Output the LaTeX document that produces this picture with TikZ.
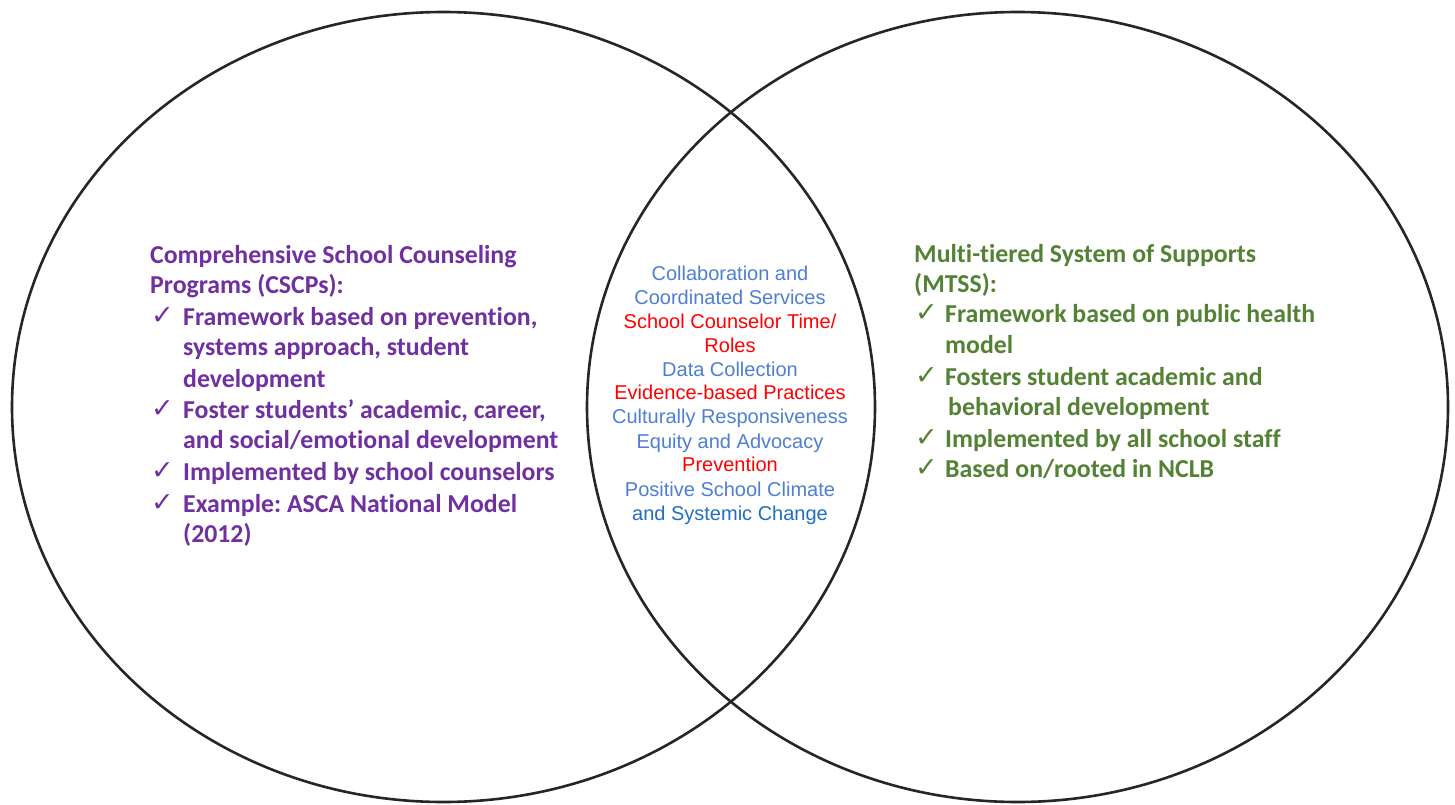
\documentclass[tikz,border=0pt]{standalone}
\usepackage{fontspec}
\setmainfont{Carlito}[Ligatures=NoCommon]
\newfontfamily\arialf{Liberation Sans}
\newfontfamily\checkf{DejaVu Sans}
\definecolor{cpurple}{HTML}{7030A0}
\definecolor{cgreen}{HTML}{548235}
\definecolor{cblue}{HTML}{4F7FD0}
\definecolor{cdblue}{HTML}{2070C0}
\definecolor{cred}{HTML}{FF0000}
\frenchspacing
\begin{document}
\begin{tikzpicture}[x=1pt,y=-1pt,
  ring/.style={draw=black!85,line width=2.6pt},
  sidetxt/.style={anchor=base west,inner sep=0pt,font=\fontsize{25.8}{31}\selectfont\bfseries},
  lefttxt/.style={sidetxt,text=cpurple},
  righttxt/.style={sidetxt,text=cgreen},
  tick/.style={anchor=base west,inner sep=0pt,font=\checkf\fontsize{27}{30}\selectfont},
  midtxt/.style={anchor=base,inner sep=0pt,font=\arialf\fontsize{20}{24}\selectfont},
  midblue/.style={midtxt,text=cblue},
  midred/.style={midtxt,text=cred}]
\useasboundingbox[fill=white] (0,0) rectangle (1455,805);
\draw[ring] (443.5,407) ellipse [x radius=431.5pt, y radius=395pt];
\draw[ring] (1017.5,407) ellipse [x radius=430.5pt, y radius=395pt];
% left block
\node[lefttxt] (l1) at (150,263) {Comprehensive School Counseling};
\node[lefttxt] (l2) at (150,293) {Programs (CSCPs):};
\node[tick,text=cpurple] (lc1) at (151,324) {✓};
\node[lefttxt] (l3) at (183,325) {Framework based on prevention,};
\node[lefttxt] (l4) at (183,355) {systems approach, student};
\node[lefttxt] (l5) at (183,387) {development};
\node[tick,text=cpurple] (lc2) at (151,417) {✓};
\node[lefttxt] (l6) at (183,418) {Foster students’ academic, career,};
\node[lefttxt] (l7) at (183,448) {and social/emotional development};
\node[tick,text=cpurple] (lc3) at (151,479) {✓};
\node[lefttxt] (l8) at (183,480) {Implemented by school counselors};
\node[tick,text=cpurple] (lc4) at (151,511) {✓};
\node[lefttxt] (l9) at (183,512) {Example: ASCA National Model};
\node[lefttxt] (l10) at (183,542) {(2012)};
% right block
\node[righttxt] (r1) at (914,262) {Multi-tiered System of Supports};
\node[righttxt] (r2) at (914,292) {(MTSS):};
\node[tick,text=cgreen] (rc1) at (915,321) {✓};
\node[righttxt] (r3) at (945,322) {Framework based on public health};
\node[righttxt] (r4) at (945,353) {model};
\node[tick,text=cgreen] (rc2) at (915,384) {✓};
\node[righttxt] (r5) at (945,385) {Fosters student academic and};
\node[righttxt] (r6) at (948,415) {behavioral development};
\node[tick,text=cgreen] (rc3) at (915,446) {✓};
\node[righttxt] (r7) at (945,447) {Implemented by all school staff};
\node[tick,text=cgreen] (rc4) at (915,476) {✓};
\node[righttxt] (r8) at (945,477) {Based on/rooted in NCLB};
% middle block
\node[midblue] (m1) at (730,280) {Collaboration and};
\node[midblue] (m2) at (730,304) {Coordinated Services};
\node[midred] (m3) at (730,328) {School Counselor Time/};
\node[midred] (m4) at (730,352) {Roles};
\node[midblue] (m5) at (730,376) {Data Collection};
\node[midred] (m6) at (730,399) {Evidence-based Practices};
\node[midblue] (m7) at (730,423) {Culturally Responsiveness};
\node[midblue] (m8) at (730,448) {Equity and Advocacy};
\node[midred] (m9) at (730,471) {Prevention};
\node[midblue] (m10) at (730,496) {Positive School Climate};
\node[midtxt,text=cdblue] (m11) at (730,520) {and Systemic Change};
\end{tikzpicture}
\end{document}
